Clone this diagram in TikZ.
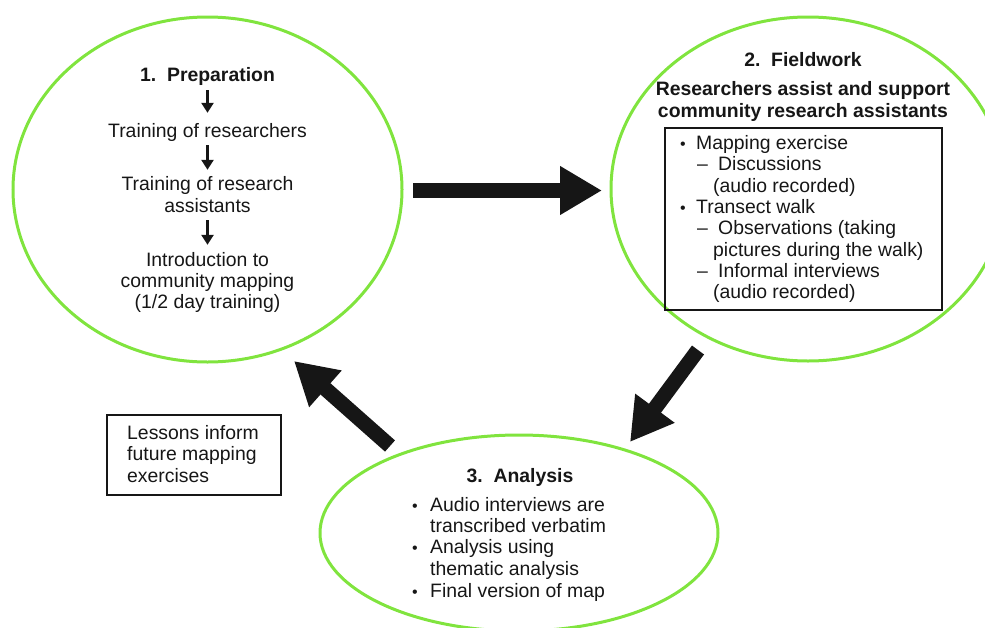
\documentclass[tikz,border=0pt]{standalone}
\usepackage{fontspec}
\setmainfont{Liberation Sans}
\usetikzlibrary{shapes.geometric,arrows.meta}
\definecolor{ringgreen}{RGB}{128,228,62}
\definecolor{inkblack}{RGB}{22,22,22}
\begin{document}
\begin{tikzpicture}[x=1pt,y=-1pt,
  ring/.style={ellipse, draw=ringgreen, line width=3pt, inner sep=0pt},
  frame/.style={draw=inkblack, line width=2.4pt, inner sep=0pt},
  txt/.style={inner sep=0pt, text height=14pt, text depth=4pt, text=inkblack,
    font=\fontsize{19.4}{21.5}\selectfont},
  ttl/.style={txt, font=\fontsize{19.4}{21.5}\selectfont\bfseries},
  mid/.style={txt, anchor=base},
  lft/.style={txt, anchor=base west},
  dot/.style={inner sep=0pt, anchor=base, text=inkblack, font=\fontsize{16}{16}\selectfont},
  bigarrow/.style={draw=inkblack, line width=15pt, -{Triangle[length=42pt,width=46pt]}},
  smallarrow/.style={draw=inkblack, line width=2.6pt, -{Triangle[length=10pt,width=12pt]}}
]
\useasboundingbox (0,0) rectangle (985,627);
\clip (0,0) rectangle (985,627);

% the three stages
\node[ring, minimum width=389pt, minimum height=345pt] (prep) at (207.5,189.5) {};
\node[ring, minimum width=394pt, minimum height=344pt] (field) at (808,189) {};
\node[ring, minimum width=398pt, minimum height=196pt] (anal) at (519,533) {};

% 1. Preparation
\node[ttl, anchor=base] (p0) at (207.5,81) {1.\ \ Preparation};
\node[mid] (p1) at (207.5,137) {Training of researchers};
\node[mid] (p2a) at (207.5,190) {Training of research};
\node[mid] (p2b) at (207.5,212) {assistants};
\node[mid] (p3a) at (207.5,266) {Introduction to};
\node[mid] (p3b) at (207.5,287) {community mapping};
\node[mid] (p3c) at (207.5,308) {(1/2 day training)};
\draw[smallarrow, shorten <=5pt, shorten >=10pt] (p0.south) -- (p1.north);
\draw[smallarrow, shorten <=4pt, shorten >=6pt] (p1.south) -- (p2a.north);
\draw[smallarrow, shorten <=4pt, shorten >=7pt] (p2b.south) -- (p3a.north);

% 2. Fieldwork
\node[ttl, anchor=base] (f0) at (803,66) {2.\ \ Fieldwork};
\node[ttl, anchor=base] (f1) at (803,95) {Researchers assist and support};
\node[ttl, anchor=base] (f2) at (803,117) {community research assistants};
\node[frame, minimum width=277pt, minimum height=182pt] (fbox) at (803.5,219) {};
\node[dot] (fb1) at (683,149) {•};
\node[lft] (fl1) at (696,149) {Mapping exercise};
\node[lft] (fd1) at (697,170) {–};
\node[lft] (fl2) at (718,170) {Discussions};
\node[lft] (fl3) at (713,192) {(audio recorded)};
\node[dot] (fb2) at (683,213) {•};
\node[lft] (fl4) at (696,213) {Transect walk};
\node[lft] (fd2) at (697,234) {–};
\node[lft] (fl5) at (718,234) {Observations (taking};
\node[lft] (fl6) at (713,256) {pictures during the walk)};
\node[lft] (fd3) at (697,277) {–};
\node[lft] (fl7) at (718,277) {Informal interviews};
\node[lft] (fl8) at (713,298) {(audio recorded)};

% 3. Analysis
\node[ttl, anchor=base] (a0) at (520,482) {3.\ \ Analysis};
\node[dot] (ab1) at (415,511) {•};
\node[lft] (al1) at (430,511) {Audio interviews are};
\node[lft] (al2) at (430,532) {transcribed verbatim};
\node[dot] (ab2) at (415,553) {•};
\node[lft] (al3) at (430,553) {Analysis using};
\node[lft] (al4) at (430,575) {thematic analysis};
\node[dot] (ab3) at (415,597) {•};
\node[lft] (al5) at (430,597) {Final version of map};

% lessons note
\node[frame, minimum width=174pt, minimum height=80pt] (lbox) at (194,455) {};
\node[lft] (ll1) at (127,439) {Lessons inform};
\node[lft] (ll2) at (127,460) {future mapping};
\node[lft] (ll3) at (127,482) {exercises};

% cycle arrows
\coordinate (r1) at (413,190.5);
\coordinate (r2) at (602,190.5);
\coordinate (d1) at (698,350);
\coordinate (d2) at (630,442);
\coordinate (u1) at (390,446);
\coordinate (u2) at (294,361);
\draw[bigarrow] (r1) -- (r2);
\draw[bigarrow] (d1) -- (d2);
\draw[bigarrow] (u1) -- (u2);
\end{tikzpicture}
\end{document}
